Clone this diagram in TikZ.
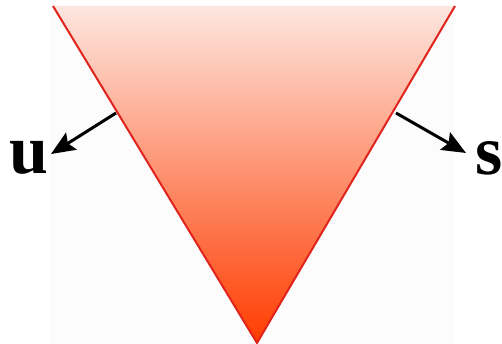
\documentclass[tikz,border=0pt]{standalone}
\usepackage{fontspec}
\setmainfont{Liberation Serif}
\usetikzlibrary{arrows.meta}
\definecolor{wedgetop}{HTML}{FDE6DF}
\definecolor{wedgebot}{HTML}{FF3C00}
\definecolor{wedgeline}{HTML}{E0231C}
\begin{document}
\begin{tikzpicture}[x=1pt,y=-1pt]
\tikzset{>={Stealth[length=24pt,width=20pt,inset=4pt]}}
\tikzset{lbl/.style={font=\fontsize{70}{70}\selectfont\bfseries, inner sep=0pt}}
\useasboundingbox (0,0) rectangle (502,344);
\fill[black!1] (51,7) rectangle (455,344);

\coordinate (TL) at (53,6);
\coordinate (TR) at (455,6);
\coordinate (P) at (257,343);
\coordinate (UT) at (116,113);
\coordinate (UH) at (51,154);
\coordinate (ST) at (396,113);
\coordinate (SH) at (466,153);

\shade[top color=wedgetop, bottom color=wedgebot] (TL) -- (TR) -- (P) -- cycle;
\draw[wedgeline, line width=2pt] (TL) -- (P) -- (TR);

\draw[->, line width=3pt] (UT) -- (UH);
\draw[->, line width=3pt] (ST) -- (SH);

\node[lbl] (u) at (29,158) {u};
\node[lbl] (s) at (489,158) {s};

\end{tikzpicture}
\end{document}
